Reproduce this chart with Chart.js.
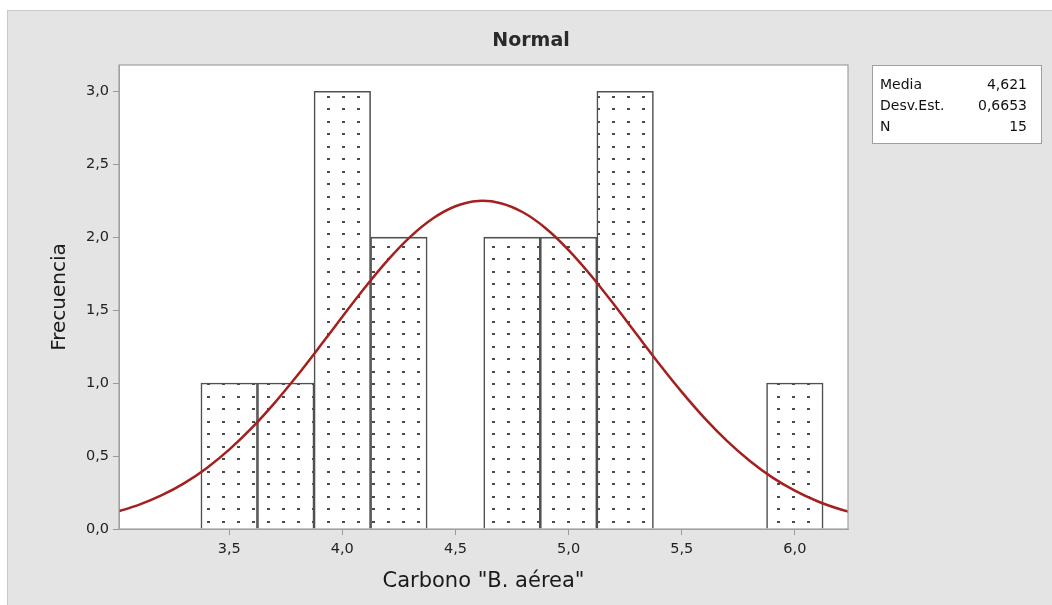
<!DOCTYPE html>
<html>
<head>
<meta charset="utf-8">
<script src="https://cdn.jsdelivr.net/npm/chart.js@4"></script>
<style>
  body { margin: 0; background: #fff; }
  #wrap { width: 1052px; height: 605px; }
</style>
</head>
<body>
<div id="wrap"><canvas id="histChart" width="1052" height="605"></canvas></div>
<script>
// bins (centre of each bar) and counts
const binCenters = [3.5, 3.75, 4.0, 4.25, 4.5, 4.75, 5.0, 5.25, 5.5, 5.75, 6.0];
const binCounts = [1, 1, 3, 2, 0, 2, 2, 3, 0, 0, 1];

// fitted normal curve
const curveX = [3.0, 3.1, 3.2, 3.3, 3.4, 3.5, 3.6, 3.7, 3.8, 3.9, 4.0, 4.1, 4.2, 4.3, 4.4, 4.5, 4.6,
  4.7, 4.8, 4.9, 5.0, 5.1, 5.2, 5.3, 5.4, 5.5, 5.6, 5.7, 5.8, 5.9, 6.0, 6.1, 6.2, 6.3];
const curveY = [0.116, 0.165, 0.230, 0.313, 0.417, 0.544, 0.693, 0.863, 1.050, 1.250, 1.455, 1.655,
  1.841, 2.002, 2.128, 2.212, 2.248, 2.233, 2.169, 2.060, 1.912, 1.736, 1.540, 1.336, 1.133, 0.940,
  0.762, 0.604, 0.468, 0.354, 0.263, 0.190, 0.135, 0.093];

const xTicks = [3.5, 4.0, 4.5, 5.0, 5.5, 6.0];
const yTicks = [0, 0.5, 1.0, 1.5, 2.0, 2.5, 3.0];

const statLabels = ["Media", "Desv.Est.", "N"];
const statValues = ["4,621", "0,6653", "15"];

const fmt = v => v.toFixed(1).replace(".", ",");
const FONT = "'DejaVu Sans'";

// dotted fill for the bars
function dotPattern() {
  const c = document.createElement("canvas");
  c.width = 15;
  c.height = 25;
  const g = c.getContext("2d");
  g.fillStyle = "#fff";
  g.fillRect(0, 0, 15, 25);
  g.fillStyle = "#4a4a4a";
  g.fillRect(12, 8, 3, 2);
  g.fillRect(12, 21, 3, 2);
  return document.getElementById("histChart").getContext("2d").createPattern(c, "repeat");
}

const frame = {
  id: "frame",
  beforeDraw(chart) {
    const { ctx, chartArea: a } = chart;
    ctx.save();
    ctx.fillStyle = "#e4e4e4";
    ctx.fillRect(7, 10, 1045, 595);
    ctx.strokeStyle = "#c8c8c8";
    ctx.lineWidth = 1;
    ctx.strokeRect(7.5, 10.5, 1045, 595);
    ctx.fillStyle = "#fff";
    ctx.fillRect(a.left, a.top, a.right - a.left, a.bottom - a.top);
    ctx.restore();
  },
  afterDraw(chart) {
    const { ctx, chartArea: a } = chart;
    ctx.save();
    ctx.strokeStyle = "#a0a0a0";
    ctx.lineWidth = 1.2;
    ctx.strokeRect(a.left, a.top, a.right - a.left, a.bottom - a.top);

    ctx.fillStyle = "#2a2a2a";
    ctx.font = "bold 19px " + FONT;
    ctx.textAlign = "center";
    ctx.textBaseline = "middle";
    ctx.fillText("Normal", 531, 41);

    // stats box
    ctx.fillStyle = "#fff";
    ctx.fillRect(872, 65, 170, 78);
    ctx.strokeStyle = "#a0a0a0";
    ctx.lineWidth = 1;
    ctx.strokeRect(872.5, 65.5, 169, 78);
    ctx.font = "14px " + FONT;
    ctx.fillStyle = "#111";
    statLabels.forEach((lab, i) => {
      const y = 85 + i * 21;
      ctx.textAlign = "left";
      ctx.fillText(lab, 880, y);
      ctx.textAlign = "right";
      ctx.fillText(statValues[i], 1027, y);
    });
    ctx.restore();
  }
};

new Chart(document.getElementById("histChart"), {
  type: "bar",
  data: {
    datasets: [
      {
        type: "line",
        data: curveX.map((x, i) => ({ x, y: curveY[i] })),
        borderColor: "#a3201f",
        borderWidth: 2.5,
        pointRadius: 0,
        tension: 0.3,
        order: 1,
      },
      {
        data: binCenters.map((x, i) => ({ x, y: binCounts[i] })),
        backgroundColor: dotPattern(),
        borderColor: "#505050",
        borderWidth: 1.6,
        barPercentage: 1,
        categoryPercentage: 1,
        order: 2,
      },
    ],
  },
  options: {
    responsive: false,
    animation: false,
    layout: { padding: { left: 44, top: 65, right: 204, bottom: 11 } },
    plugins: { legend: { display: false }, tooltip: { enabled: false } },
    scales: {
      x: {
        type: "linear",
        min: 3.013,
        max: 6.235,
        offset: false,
        afterFit: s => { s.height = 65; },
        afterBuildTicks: s => { s.ticks = xTicks.map(v => ({ value: v })); },
        grid: { drawOnChartArea: false, offset: false, tickLength: 6, color: "#999" },
        border: { color: "#a0a0a0" },
        ticks: {
          font: { family: "DejaVu Sans", size: 14.5 },
          color: "#222",
          padding: 6,
          maxRotation: 0,
          callback: v => fmt(v),
        },
        title: {
          display: true,
          text: 'Carbono "B. aérea"',
          font: { family: "DejaVu Sans", size: 21 },
          color: "#1a1a1a",
          padding: 0,
        },
      },
      y: {
        min: 0,
        max: 3.18,
        afterFit: s => { s.width = 75; },
        afterBuildTicks: s => { s.ticks = yTicks.map(v => ({ value: v })); },
        grid: { drawOnChartArea: false, tickLength: 6, color: "#999" },
        border: { color: "#a0a0a0" },
        ticks: {
          font: { family: "DejaVu Sans", size: 14.5 },
          color: "#222",
          padding: 4,
          callback: v => fmt(v),
        },
        title: {
          display: true,
          text: "Frecuencia",
          font: { family: "DejaVu Sans", size: 20 },
          color: "#1a1a1a",
          padding: 4,
        },
      },
    },
  },
  plugins: [frame],
});
</script>
</body>
</html>
